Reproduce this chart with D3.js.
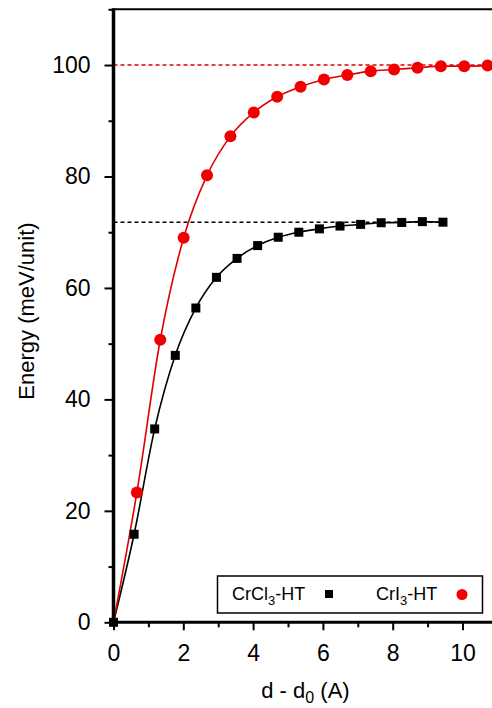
<!DOCTYPE html>
<html>
<head>
  <meta charset="utf-8">
  <title>Energy vs d - d0</title>
  <script src="https://cdn.jsdelivr.net/npm/d3@7"></script>
  <style>
    body {
      margin: 0;
      background: #fff;
      overflow: hidden;
    }
    text {
      font-family: "Liberation Sans", Arial, sans-serif;
      fill: #000;
    }
  </style>
</head>
<body>
  <script>
    // data
    var cri3X = [0, 0.67, 1.34, 2.01, 2.68, 3.35, 4.02, 4.69, 5.36, 6.03, 6.70, 7.37, 8.04, 8.71, 9.38, 10.05, 10.72];
    var cri3Y = [0, 23.3, 50.7, 69.0, 80.2, 87.2, 91.5, 94.3, 96.1, 97.4, 98.2, 98.9, 99.2, 99.5, 99.8, 99.8, 99.9];
    var crcl3X = [0, 0.59, 1.18, 1.77, 2.36, 2.95, 3.54, 4.13, 4.72, 5.31, 5.90, 6.49, 7.08, 7.67, 8.26, 8.85, 9.44];
    var crcl3Y = [0, 15.8, 34.7, 47.9, 56.4, 61.9, 65.3, 67.6, 69.1, 70.0, 70.6, 71.1, 71.4, 71.7, 71.75, 71.9, 71.8];
    var cri3Limit = 100;
    var crcl3Limit = 71.8;
    var xTicks = [0, 2, 4, 6, 8, 10];
    var xMinor = [1, 3, 5, 7, 9, 11];
    var yTicks = [0, 20, 40, 60, 80, 100];
    var yMinor = [10, 30, 50, 70, 90, 110];

    var width = 492;
    var height = 708;
    var padLeft = 113.5, padTop = 9.3, padBottom = 622.3;

    var xScale = d3.scaleLinear().domain([0, 11]).range([padLeft, padLeft + 11 * 34.9]);
    var yScale = d3.scaleLinear().domain([0, 110]).range([padBottom, padTop]);

    var svg = d3.select("body").append("svg")
      .attr("width", width)
      .attr("height", height);

    var cri3 = cri3X.map(function(x, i) { return [x, cri3Y[i]]; });
    var crcl3 = crcl3X.map(function(x, i) { return [x, crcl3Y[i]]; });

    var line = d3.line()
      .x(function(d) { return xScale(d[0]); })
      .y(function(d) { return yScale(d[1]); })
      .curve(d3.curveMonotoneX);

    // top frame
    svg.append("line")
      .attr("x1", padLeft).attr("x2", width + 10)
      .attr("y1", padTop).attr("y2", padTop)
      .attr("stroke", "#000").attr("stroke-width", 2);

    // dotted limits
    svg.append("line")
      .attr("x1", xScale(0)).attr("x2", xScale(11))
      .attr("y1", yScale(cri3Limit)).attr("y2", yScale(cri3Limit))
      .attr("stroke", "#e00000").attr("stroke-width", 1.5)
      .attr("stroke-dasharray", "4,3");

    svg.append("line")
      .attr("x1", xScale(0)).attr("x2", xScale(crcl3X[crcl3X.length - 1]))
      .attr("y1", yScale(crcl3Limit)).attr("y2", yScale(crcl3Limit))
      .attr("stroke", "#000").attr("stroke-width", 1.5)
      .attr("stroke-dasharray", "4,3");

    // curves
    svg.append("path")
      .datum(crcl3)
      .attr("fill", "none")
      .attr("stroke", "#000")
      .attr("stroke-width", 1.6)
      .attr("d", line);

    svg.append("path")
      .datum(cri3)
      .attr("fill", "none")
      .attr("stroke", "#e00000")
      .attr("stroke-width", 1.6)
      .attr("d", line);

    // markers
    svg.selectAll(".sq")
      .data(crcl3)
      .enter()
      .append("rect")
      .attr("class", "sq")
      .attr("x", function(d) { return xScale(d[0]) - 4.5; })
      .attr("y", function(d) { return yScale(d[1]) - 4.5; })
      .attr("width", 9)
      .attr("height", 9)
      .attr("fill", "#000");

    svg.selectAll(".dot")
      .data(cri3.slice(1))
      .enter()
      .append("circle")
      .attr("class", "dot")
      .attr("cx", function(d) { return xScale(d[0]); })
      .attr("cy", function(d) { return yScale(d[1]); })
      .attr("r", 6)
      .attr("fill", "#f00000");

    // axes
    var xAxis = d3.axisBottom(xScale).tickValues(xTicks).tickSize(8).tickPadding(14).tickFormat(d3.format("d"));
    var xAxisMinor = d3.axisBottom(xScale).tickValues(xMinor).tickSize(5).tickFormat("");
    var yAxis = d3.axisLeft(yScale).tickValues(yTicks).tickSize(9).tickPadding(14).tickFormat(d3.format("d"));
    var yAxisMinor = d3.axisLeft(yScale).tickValues(yMinor).tickSize(5).tickFormat("");

    [xAxis, xAxisMinor].forEach(function(ax) {
      svg.append("g")
        .attr("class", "axis")
        .attr("transform", "translate(0," + padBottom + ")")
        .call(ax);
    });
    [yAxis, yAxisMinor].forEach(function(ax) {
      svg.append("g")
        .attr("class", "axis")
        .attr("transform", "translate(" + padLeft + ",0)")
        .call(ax);
    });

    svg.selectAll(".axis .domain").remove();
    svg.selectAll(".axis line").attr("stroke", "#000").attr("stroke-width", 2);
    svg.selectAll(".axis text")
      .style("font-size", "23px")
      .style("font-family", "'Liberation Sans', Arial, sans-serif")
      .attr("fill", "#000");

    // axis lines
    svg.append("line")
      .attr("x1", padLeft).attr("x2", width + 10)
      .attr("y1", padBottom).attr("y2", padBottom)
      .attr("stroke", "#000").attr("stroke-width", 3);
    svg.append("line")
      .attr("x1", padLeft).attr("x2", padLeft)
      .attr("y1", padTop - 1).attr("y2", padBottom + 1.5)
      .attr("stroke", "#000").attr("stroke-width", 3.5);

    // axis titles
    var xt = svg.append("text")
      .attr("x", xScale(5.5))
      .attr("y", 698)
      .attr("text-anchor", "middle")
      .style("font-size", "22px");
    xt.append("tspan").text("d - d");
    xt.append("tspan").attr("dy", 5).style("font-size", "16px").text("0");
    xt.append("tspan").attr("dy", -5).text(" (A)");

    svg.append("text")
      .attr("transform", "translate(34,311) rotate(-90)")
      .attr("text-anchor", "middle")
      .style("font-size", "22px")
      .text("Energy (meV/unit)");

    // legend
    svg.append("rect")
      .attr("x", 217.5).attr("y", 576)
      .attr("width", 265).attr("height", 37)
      .attr("fill", "#fff")
      .attr("stroke", "#000")
      .attr("stroke-width", 1.5);

    var l1 = svg.append("text").attr("x", 232).attr("y", 600).style("font-size", "18px");
    l1.append("tspan").text("CrCl");
    l1.append("tspan").attr("dy", 5).style("font-size", "13px").text("3");
    l1.append("tspan").attr("dy", -5).text("-HT");

    var l2 = svg.append("text").attr("x", 376).attr("y", 600).style("font-size", "18px");
    l2.append("tspan").text("CrI");
    l2.append("tspan").attr("dy", 5).style("font-size", "13px").text("3");
    l2.append("tspan").attr("dy", -5).text("-HT");

    svg.append("rect")
      .attr("x", 325).attr("y", 590)
      .attr("width", 8).attr("height", 8)
      .attr("fill", "#000");
    svg.append("circle")
      .attr("cx", 462).attr("cy", 594.5)
      .attr("r", 5.5)
      .attr("fill", "#f00000");
  </script>
</body>
</html>
